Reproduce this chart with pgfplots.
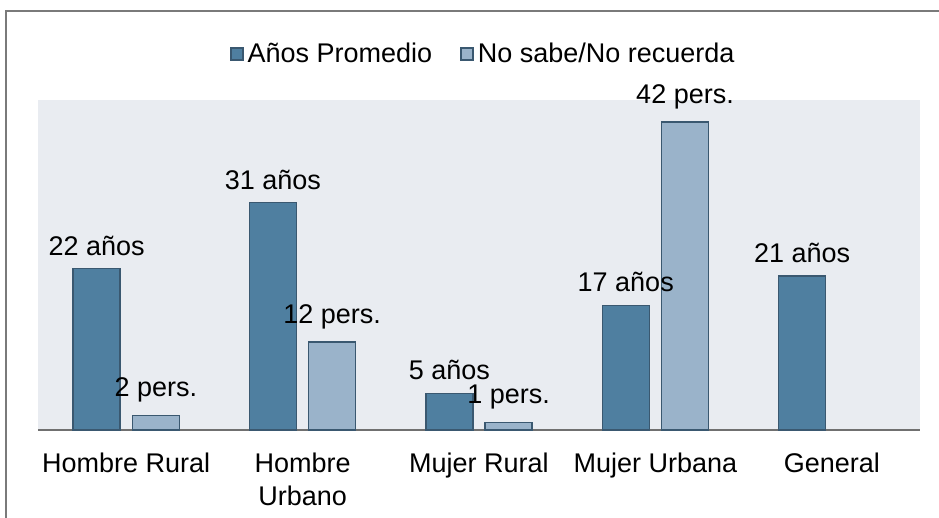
\documentclass[border=0pt]{standalone}
\usepackage{pgfplots}
\pgfplotsset{compat=1.18}
\usepackage{fontspec}
\setmainfont{Liberation Sans}
\definecolor{darkbar}{HTML}{4F7FA0}
\definecolor{lightbar}{HTML}{9AB3CA}
\definecolor{baredge}{HTML}{3A5870}
\definecolor{bgc}{HTML}{E9ECF1}
\definecolor{axisgray}{HTML}{707070}
\definecolor{framegray}{HTML}{7A7A7A}
\begin{document}
\begin{tikzpicture}[font=\fontsize{13.5}{16}\selectfont]
\useasboundingbox (-19pt,-44pt) rectangle (450.5pt,215pt);
\begin{axis}[
  at={(0,0)}, anchor=south west,
  scale only axis, width=441pt, height=165pt,
  xmin=-0.5, xmax=4.5, ymin=0, ymax=45,
  axis x line*=bottom, axis y line=none,
  axis line style={axisgray, line width=1pt},
  axis background/.style={fill=bgc},
  xtick={0,1,2,3,4},
  xticklabels={Hombre Rural,{Hombre\\Urbano},Mujer Rural,Mujer Urbana,General},
  xticklabel style={align=center, yshift=-8pt, font=\fontsize{13.5}{16.5}\selectfont},
  major tick length=0pt,
  ybar, bar width=0.266,
  clip=false,
  nodes near coords, point meta=explicit symbolic,
  every node near coord/.append style={black, yshift=3pt, font=\fontsize{13.5}{16}\selectfont},
  legend image code/.code={\draw[#1, line width=0.8pt] (0pt,-3pt) rectangle (6pt,3pt);},
  legend style={at={(0.506,1.1394)}, anchor=center, draw=none, fill=none,
    legend columns=2, /tikz/every even column/.append style={column sep=12pt},
    font=\fontsize{13.5}{16}\selectfont},
]
\addplot[fill=darkbar, draw=baredge, line width=0.7pt, bar shift=-0.168] coordinates {
  (0,22) [22 años] (1,31) [31 años] (2,5) [5 años] (3,17) [17 años] (4,21) [21 años]};
\addlegendentry{Años Promedio}
\addplot[fill=lightbar, draw=baredge, line width=0.7pt, bar shift=0.168] coordinates {
  (0,2) [2 pers.] (1,12) [12 pers.] (2,1) [1 pers.] (3,42) [42 pers.]};
\addlegendentry{No sabe/No recuerda}
\end{axis}
\draw[framegray, line width=1pt] (-16pt,-44pt) -- (-16pt,209.5pt) -- (450.5pt,209.5pt);
\end{tikzpicture}
\end{document}
